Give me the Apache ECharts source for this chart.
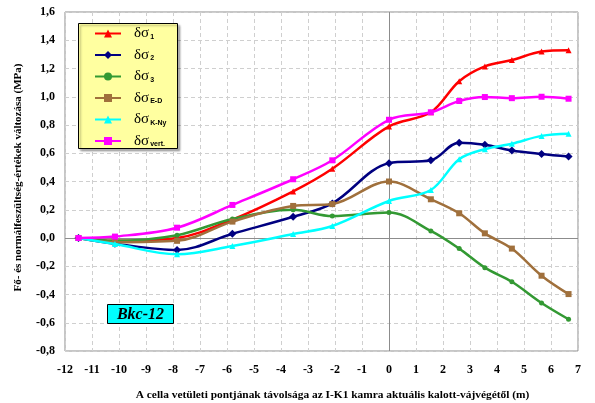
<!DOCTYPE html>
<html>
<head>
<meta charset="utf-8">
<script src="https://cdn.jsdelivr.net/npm/echarts@6/dist/echarts.min.js"></script>
<style>
  html, body { margin: 0; padding: 0; background: #ffffff; }
  #chart { width: 595px; height: 403px; }
</style>
</head>
<body>
<div id="chart"></div>
<script>
// Distance of the measuring cell from the face (m)
const distances = [-11.5, -10.15, -7.85, -5.8, -3.55, -2.1, 0, 1.55, 2.6, 3.55, 4.55, 5.65, 6.65];

// Stress changes (MPa)
const sigma1  = [0, -0.02, 0.0, 0.13, 0.33, 0.49, 0.79, 0.89, 1.11, 1.215, 1.26, 1.32, 1.33];
const sigma2  = [0, -0.04, -0.085, 0.03, 0.15, 0.245, 0.53, 0.55, 0.675, 0.66, 0.62, 0.595, 0.577];
const sigma3  = [0, -0.02, 0.02, 0.135, 0.2, 0.155, 0.18, 0.05, -0.075, -0.21, -0.31, -0.46, -0.575];
const sigmaED = [0, -0.03, -0.02, 0.116, 0.227, 0.24, 0.40, 0.274, 0.175, 0.033, -0.075, -0.267, -0.397];
const sigmaKN = [0, -0.043, -0.115, -0.057, 0.028, 0.085, 0.262, 0.34, 0.558, 0.629, 0.667, 0.723, 0.738];
const sigmaV  = [0, 0.01, 0.073, 0.234, 0.416, 0.55, 0.837, 0.89, 0.97, 0.998, 0.99, 1.0, 0.986];

const seriesNames = ['s1', 's2', 's3', 'sED', 'sKN', 'sV'];
const seriesSubs  = ['1', '2', '3', 'E-D', 'K-Ny', 'vert.'];
const seriesValues = [sigma1, sigma2, sigma3, sigmaED, sigmaKN, sigmaV];
const seriesColors = ['#ff0000', '#000080', '#339933', '#a0703c', '#00ffff', '#ff00ff'];
const seriesSymbols = ['triangle', 'diamond', 'circle', 'rect', 'triangle', 'rect'];
const symbolSizes = [6, 8, 5, 6, 6, 6];

const serif = '"Liberation Serif", "DejaVu Serif", serif';

const chart = echarts.init(document.getElementById('chart'), null, { renderer: 'canvas' });

const series = seriesNames.map((name, i) => ({
  name: name,
  type: 'line',
  smooth: 0.35,
  data: distances.map((x, k) => [x, seriesValues[i][k]]),
  symbol: seriesSymbols[i],
  symbolSize: symbolSizes[i],
  showSymbol: true,
  lineStyle: { color: seriesColors[i], width: 2.5 },
  itemStyle: { color: seriesColors[i] },
  z: 3 + i
}));

// Axes crossing lines at x = 0 and y = 0
series[0].markLine = {
  silent: true,
  symbol: 'none',
  label: { show: false },
  lineStyle: { color: '#8c8c8c', type: 'solid', width: 1 },
  data: [{ yAxis: 0 }, { xAxis: 0 }],
  z: 1
};

const subMap = {};
seriesNames.forEach((n, i) => { subMap[n] = seriesSubs[i]; });

chart.setOption({
  animation: false,
  backgroundColor: '#ffffff',
  grid: {
    left: 65, right: 17, top: 12, bottom: 52,
    outerBoundsMode: 'none',
    containLabel: false,
    show: true, borderColor: '#8c8c8c', borderWidth: 1, backgroundColor: '#ffffff'
  },
  xAxis: {
    type: 'value',
    min: -12, max: 7, interval: 1,
    axisLine: { show: false },
    axisTick: { show: false },
    axisLabel: { color: '#000', fontFamily: serif, fontWeight: 'bold', fontSize: 12, margin: 13 },
    splitLine: { show: true, lineStyle: { color: '#cfcfcf', type: [4, 3], width: 1 } },
    name: 'A cella vetületi pontjának távolsága az I-K1 kamra aktuális kalott-vájvégétől (m)',
    nameLocation: 'middle',
    nameGap: 39,
    nameTextStyle: { color: '#000', fontFamily: serif, fontWeight: 'bold', fontSize: 11.4, padding: [0, 0, 0, 22] }
  },
  yAxis: {
    type: 'value',
    min: -0.8, max: 1.6, interval: 0.2,
    axisLine: { show: false },
    axisTick: { show: false },
    axisLabel: {
      color: '#000', fontFamily: serif, fontWeight: 'bold', fontSize: 12, margin: 10,
      formatter: v => v.toFixed(1).replace('.', ',')
    },
    splitLine: { show: true, lineStyle: { color: '#cfcfcf', type: [4, 3], width: 1 } },
    name: 'Fő- és normálfeszültség-értékek változása (MPa)',
    nameLocation: 'middle',
    nameGap: 41,
    nameTextStyle: { color: '#000', fontFamily: serif, fontWeight: 'bold', fontSize: 11, padding: [0, 0, 0, 8] }
  },
  legend: {
    show: true,
    orient: 'vertical',
    left: 89, top: 21,
    itemWidth: 26, itemHeight: 10,
    itemGap: 6.5,
    z: 60,
    data: seriesNames,
    formatter: name => '{m|δσ}{s|' + subMap[name] + '}',
    textStyle: {
      color: '#000',
      padding: [0, 0, 0, 8],
      rich: {
        m: { fontFamily: serif, fontSize: 15, color: '#000', lineHeight: 16 },
        s: { fontFamily: '"Liberation Sans", Arial, sans-serif', fontSize: 7, fontWeight: 'bold', color: '#000', padding: [7, 0, 0, 1], lineHeight: 16 }
      }
    }
  },
  graphic: [
    {
      type: 'rect',
      left: 78, top: 23,
      shape: { width: 99, height: 125 },
      style: { fill: '#ffffa0', stroke: '#000', lineWidth: 1, shadowColor: 'rgba(0,0,0,0.3)', shadowOffsetX: 2, shadowOffsetY: 2, shadowBlur: 2 },
      z: 50
    },
    {
      type: 'group',
      left: 107, top: 304,
      z: 50,
      children: [
        {
          type: 'rect',
          shape: { x: 0, y: 0, width: 66, height: 19 },
          style: { fill: '#00ffff', stroke: '#000', lineWidth: 1 },
          z: 50
        },
        {
          type: 'text',
          x: 33, y: 10,
          style: {
            text: 'Bkc-12', fill: '#000', align: 'center', verticalAlign: 'middle',
            font: 'italic bold 16px "Liberation Serif", serif'
          },
          z: 51
        }
      ]
    }
  ],
  series: series
});
</script>
</body>
</html>
